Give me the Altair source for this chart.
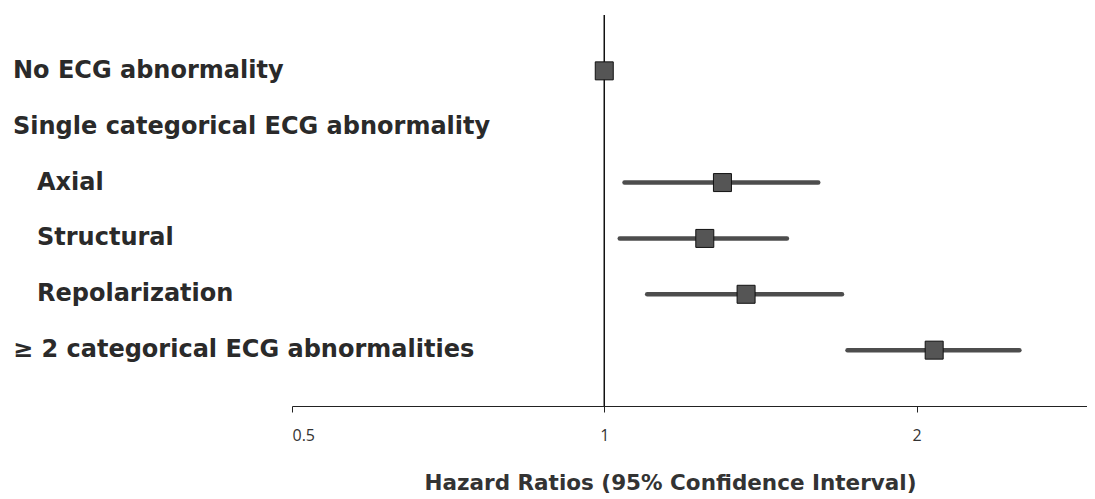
import altair as alt
import pandas as pd

labels = [
    "No ECG abnormality",
    "Single categorical ECG abnormality",
    "Axial",
    "Structural",
    "Repolarization",
    "≥ 2 categorical ECG abnormalities",
]
indented = [False, False, True, True, True, False]
hr = [1.0, None, 1.30, 1.25, 1.37, 2.08]
ci_low = [None, None, 1.046, 1.035, 1.10, 1.716]
ci_high = [None, None, 1.608, 1.50, 1.695, 2.513]
x_ticks = [0.5, 1, 2]
reference_hr = [1.0]

df = pd.DataFrame({
    "label": labels,
    "indent": indented,
    "hr": hr,
    "lo": ci_low,
    "hi": ci_high,
})
ref_df = pd.DataFrame({"ref": reference_hr})

FONT = "DejaVu Sans"
TICK_FONT = "Open Sans"
W, H = 795, 391

xscale = alt.Scale(type="log", domain=[0.5, 2.92], nice=False, zero=False)
yenc = alt.Y("label:N", sort=labels,
             scale=alt.Scale(type="point", domain=labels, padding=1.03),
             axis=None)

base = alt.Chart(df)

ci = base.transform_filter("isValid(datum.lo)").mark_rule(
    color="#4d4d4d", strokeWidth=4.5, strokeCap="round"
).encode(
    x=alt.X("lo:Q", scale=xscale,
            axis=alt.Axis(values=x_ticks, format="~g", grid=False,
                          domainColor="#222", domainWidth=1,
                          tickColor="#222", tickSize=6, tickWidth=1,
                          labelFont=TICK_FONT, labelFontSize=16, labelColor="#333",
                          labelPadding=15,
                          title="Hazard Ratios (95% Confidence Interval)",
                          titleFont=FONT, titleFontSize=21.5, titleFontWeight="bold",
                          titleColor="#333", titlePadding=29,
                          titleX=378, titleAlign="center")),
    x2="hi:Q",
    y=yenc,
)

refline = alt.Chart(ref_df).mark_rule(color="#111", strokeWidth=1.5).encode(
    x=alt.X("ref:Q", scale=xscale)
)

points = base.transform_filter("isValid(datum.hr)").mark_square(
    size=324, filled=True, color="#555", stroke="#111", strokeWidth=1, opacity=1
).encode(
    x=alt.X("hr:Q", scale=xscale),
    y=yenc,
)

txt_main = base.transform_filter("!datum.indent").mark_text(
    align="left", baseline="middle", font=FONT, fontSize=24,
    fontWeight="bold", color="#2a2a2a"
).encode(x=alt.value(-279), y=yenc, text="label:N")

txt_ind = base.transform_filter("datum.indent").mark_text(
    align="left", baseline="middle", font=FONT, fontSize=24,
    fontWeight="bold", color="#2a2a2a"
).encode(x=alt.value(-255), y=yenc, text="label:N")

chart = alt.layer(ci, refline, points, txt_main, txt_ind).properties(
    width=W, height=H,
    autosize=alt.AutoSizeParams(type="none"),
    padding={"left": 284, "top": 7, "right": 0, "bottom": 90},
).configure_view(stroke=None)

chart.save("out.html", embed_options={"renderer": "svg", "actions": False})
